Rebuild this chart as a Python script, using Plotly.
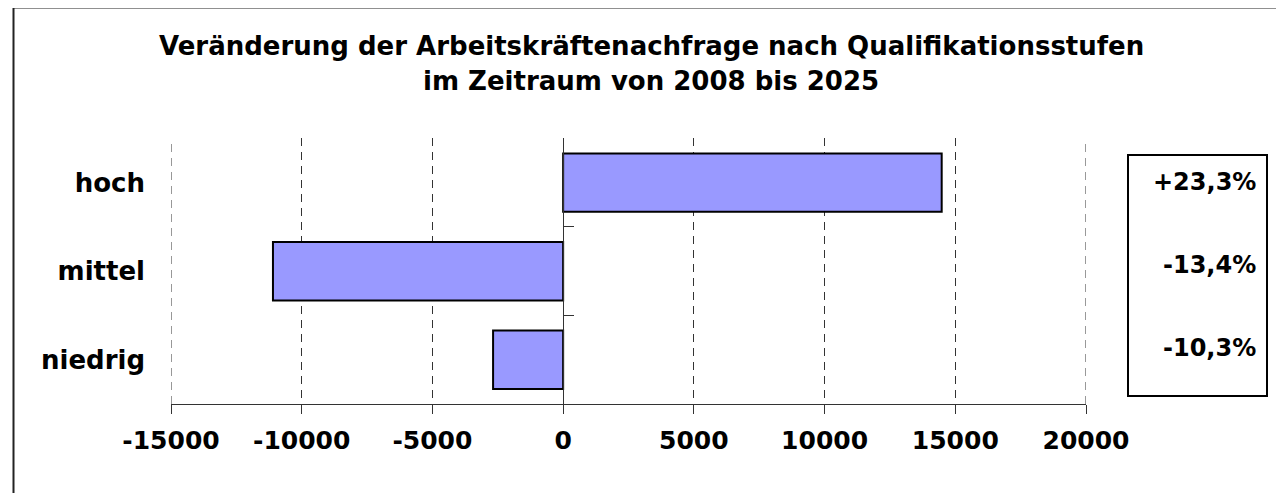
import plotly.graph_objects as go

# ---- data ----
categories = ["hoch", "mittel", "niedrig"]
changes = [14480, -11100, -2680]
pct_labels = ["+23,3%", "-13,4%", "-10,3%"]
title_lines = ["Veränderung der Arbeitskräftenachfrage nach Qualifikationsstufen",
               "im Zeitraum von 2008 bis 2025"]
x_ticks = [-15000, -10000, -5000, 0, 5000, 10000, 15000, 20000]

OFF = 8                      # page body margin
W, H = 1284 - OFF, 493 - OFF
# plot area edges in page pixels
PL, PR, PT, PB = 171, 1086, 138, 404
L, R, T, B = PL - OFF, PR - OFF, PT - OFF, PB - OFF
FONT = "DejaVu Sans, Verdana, sans-serif"
GRID = dict(color="#333333", width=1, dash="8px,6px")

def px_x(p):
    return (p - PL) / (PR - PL)

def px_y(p):
    return (PB - p) / (PB - PT)

xmin, xmax = x_ticks[0], x_ticks[-1]
n = len(categories)
yr = [-0.5, n - 0.5 + 0.004]

fig = go.Figure()
fig.add_trace(go.Bar(
    y=categories, x=changes, orientation="h",
    marker=dict(color="#9999FF", line=dict(color="black", width=2)),
    showlegend=False, hoverinfo="x+y",
))
# invisible trace so the zero-position category axis gets drawn
fig.add_trace(go.Scatter(x=[None], y=[None], yaxis="y2", showlegend=False, hoverinfo="skip"))

shapes = [
    # outer chart border
    dict(type="rect", xref="paper", yref="paper",
         x0=px_x(13.5), x1=px_x(1320), y0=px_y(7.5), y1=px_y(530),
         line=dict(color="#222222", width=2), fillcolor="rgba(0,0,0,0)", layer="below"),
    # percent box
    dict(type="rect", xref="paper", yref="paper",
         x0=px_x(1128), x1=px_x(1267), y0=px_y(155), y1=px_y(396),
         line=dict(color="black", width=2), fillcolor="rgba(0,0,0,0)"),
]
# dashed gridlines at the two range ends (plotly omits them at the edges)
for xv in (xmin, xmax):
    shapes.append(dict(type="line", xref="x", yref="paper", x0=xv, x1=xv, y0=0, y1=1,
                       line=GRID, layer="below"))

fig.update_layout(
    width=W, height=H,
    margin=dict(l=L, r=W - R, t=T, b=H - B, pad=0),
    paper_bgcolor="white", plot_bgcolor="white",
    bargap=0.34,
    font=dict(family=FONT, color="black"),
    xaxis=dict(
        range=[xmin, xmax], tickvals=x_ticks, ticktext=[str(v) for v in x_ticks],
        showgrid=True, gridcolor=GRID["color"], gridwidth=1, griddash=GRID["dash"],
        zeroline=False, showline=True, linecolor="#333333", linewidth=1,
        ticks="outside", ticklen=9, tickcolor="#333333",
        ticklabelstandoff=5,
        tickfont=dict(size=25, family=FONT, color="black", weight="bold"),
    ),
    yaxis=dict(
        categoryorder="array", categoryarray=categories[::-1],
        range=yr,
        showgrid=False, zeroline=False, showline=False, ticks="",
        ticklabelstandoff=25,
        tickfont=dict(size=26, family=FONT, color="black", weight="bold"),
    ),
    yaxis2=dict(
        overlaying="y", anchor="free", side="left",
        position=(0 - xmin) / (xmax - xmin),
        range=yr,
        tickvals=[i - 0.5 for i in range(n + 1)],
        showticklabels=False, showgrid=False, zeroline=False,
        showline=True, linecolor="#333333", linewidth=1,
        ticks="inside", ticklen=10, tickcolor="#333333",
    ),
    shapes=shapes,
)

ann = []
for i, line in enumerate(title_lines):
    ann.append(dict(text=f"<b>{line}</b>", xref="paper", yref="paper",
                    x=px_x(651), y=px_y(46 + 35 * i), xanchor="center", yanchor="middle",
                    showarrow=False, font=dict(size=26, family=FONT, color="black")))
pct_y = [182, 265, 348]
for lab, py in zip(pct_labels, pct_y):
    ann.append(dict(text=f"<b>{lab}</b>", xref="paper", yref="paper",
                    x=px_x(1258), y=px_y(py), xanchor="right", yanchor="middle",
                    showarrow=False, font=dict(size=24, family=FONT, color="black")))
fig.update_layout(annotations=ann)

fig.write_html("out.html")
